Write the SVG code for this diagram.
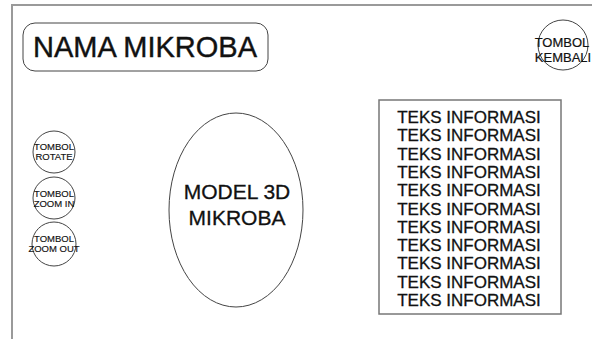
<svg xmlns="http://www.w3.org/2000/svg" width="592" height="339" viewBox="0 0 592 339">
  <style>
    .frame { fill: none; stroke: #9a9a9a; stroke-width: 2; }
    .shape { fill: #ffffff; stroke: #444444; stroke-width: 1; }
    .box { fill: #ffffff; stroke: #777777; stroke-width: 1.5; }
    text { font-family: "Liberation Sans", Arial, sans-serif; fill: #111111; text-anchor: middle; stroke: #111111; stroke-width: 0.25; }
    .title { font-size: 29px; stroke-width: 0.4; }
    .model { font-size: 21px; stroke-width: 0.3; }
    .info { font-size: 17px; stroke-width: 0.3; }
    .btn { font-size: 9.5px; stroke-width: 0.15; }
    .btn-big { font-size: 13px; stroke-width: 0.2; }
  </style>
  <rect width="592" height="339" fill="#ffffff"/>

  <!-- screen frame -->
  <path class="frame" d="M12 339 V5 H592"/>

  <g id="title">
    <rect class="shape" x="23" y="23" width="245" height="48" rx="12" ry="12"/>
    <text class="title" x="145" y="57">NAMA MIKROBA</text>
  </g>

  <g id="btn-kembali">
    <circle class="shape" cx="563" cy="45" r="25"/>
    <text class="btn-big" x="562" y="47">TOMBOL</text>
    <text class="btn-big" x="563" y="62">KEMBALI</text>
  </g>

  <g id="btn-rotate">
    <circle class="shape" cx="54" cy="152" r="21"/>
    <text class="btn" x="54" y="150">TOMBOL</text>
    <text class="btn" x="54" y="160">ROTATE</text>
  </g>

  <g id="btn-zoom-in">
    <circle class="shape" cx="54" cy="198" r="21"/>
    <text class="btn" x="54" y="197">TOMBOL</text>
    <text class="btn" x="54" y="207">ZOOM IN</text>
  </g>

  <g id="btn-zoom-out">
    <circle class="shape" cx="54" cy="244" r="22"/>
    <text class="btn" x="54" y="242">TOMBOL</text>
    <text class="btn" x="54" y="252">ZOOM OUT</text>
  </g>

  <g id="model">
    <ellipse class="shape" cx="236" cy="210" rx="67" ry="97"/>
    <text class="model" x="237" y="199">MODEL 3D</text>
    <text class="model" x="237" y="225">MIKROBA</text>
  </g>

  <g id="info">
    <rect class="box" x="379" y="100" width="182" height="214"/>
    <text class="info" x="469" y="123">TEKS INFORMASI</text>
    <text class="info" x="469" y="141.3">TEKS INFORMASI</text>
    <text class="info" x="469" y="159.6">TEKS INFORMASI</text>
    <text class="info" x="469" y="177.9">TEKS INFORMASI</text>
    <text class="info" x="469" y="196.2">TEKS INFORMASI</text>
    <text class="info" x="469" y="214.5">TEKS INFORMASI</text>
    <text class="info" x="469" y="232.8">TEKS INFORMASI</text>
    <text class="info" x="469" y="251.1">TEKS INFORMASI</text>
    <text class="info" x="469" y="269.4">TEKS INFORMASI</text>
    <text class="info" x="469" y="287.7">TEKS INFORMASI</text>
    <text class="info" x="469" y="306">TEKS INFORMASI</text>
  </g>

  <g id="connectors"/>
</svg>
